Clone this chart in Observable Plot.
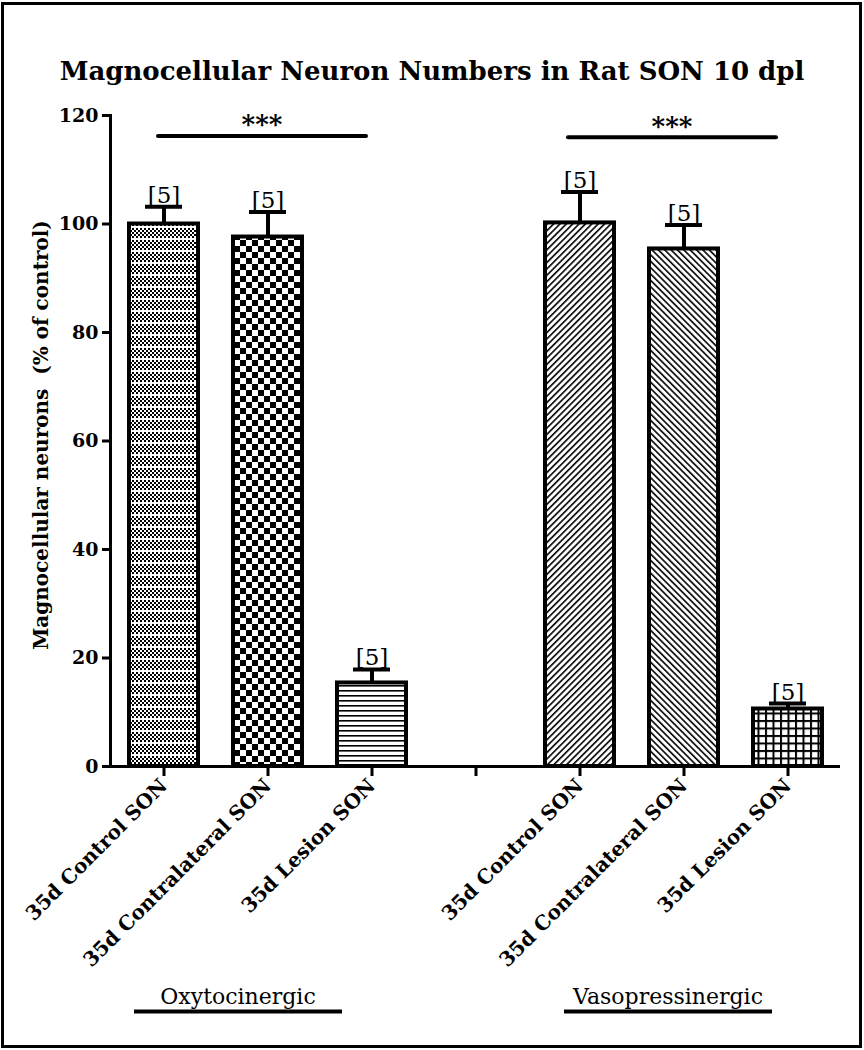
<!DOCTYPE html>
<html>
<head>
<meta charset="utf-8">
<script src="https://cdn.jsdelivr.net/npm/d3@7"></script>
<script src="https://cdn.jsdelivr.net/npm/@observablehq/plot@0.6"></script>
<style>
  html, body { margin: 0; padding: 0; background: #fff; }
  #wrap { position: relative; width: 864px; height: 1050px; overflow: hidden; }
  #border { position: absolute; left: 1px; top: 2px; width: 861px; height: 1046px; border: 3px solid #000; box-sizing: border-box; pointer-events: none; }
  #title { position: absolute; left: 0; width: 864px; top: 56px; text-align: center; font-family: "DejaVu Serif", serif; font-weight: bold; font-size: 26px; line-height: 30px; color: #000; }
  #chart { position: absolute; left: 0; top: 0; }
</style>
</head>
<body>
<div id="wrap">
  <div id="chart"></div>
  <div id="title">Magnocellular Neuron Numbers in Rat SON 10 dpl</div>
  <div id="border"></div>
</div>
<script>
// ---- data ----
const keys      = ["OT-control", "OT-contra", "OT-lesion", "gap", "VP-control", "VP-contra", "VP-lesion"];
const tickLabels = ["35d Control SON", "35d Contralateral SON", "35d Lesion SON", "", "35d Control SON", "35d Contralateral SON", "35d Lesion SON"];
const means     = [100, 97.6, 15.4, null, 100.2, 95.4, 10.6];
const sems      = [3.2, 4.6, 2.5, null, 5.7, 4.4, 1.0];
const ns        = [5, 5, 5, null, 5, 5, 5];
const patterns  = ["fineCheck", "coarseCheck", "hLines", null, "diagUp", "diagDown", "grid"];

const groupNames = ["Oxytocinergic", "Vasopressinergic"];
const groupFirst = ["OT-control", "VP-control"];
const groupMid   = ["OT-contra", "VP-contra"];
const groupLast  = ["OT-lesion", "VP-lesion"];
const sigLabels  = ["***", "***"];
const sigLevel   = [116.2, 116.0];

const yTicks = [0, 20, 40, 60, 80, 100, 120];
const yLabel = "Magnocellular neurons  (% of control)";

// ---- tables ----
const bars = keys.map((k, i) => ({key: k, mean: means[i], sem: sems[i], n: ns[i], pattern: patterns[i]}))
  .filter(d => d.mean != null);
const groups = groupNames.map((g, i) => ({name: g, first: groupFirst[i], mid: groupMid[i], last: groupLast[i], sig: sigLabels[i], level: sigLevel[i]}));
const labelOf = new Map(keys.map((k, i) => [k, tickLabels[i]]));

// layout offsets (pixels) per group annotation
const sigShift = [-6, -12];
const groupShift = [-30, -16];

const font = "DejaVu Serif";

const groupMarks = groups.flatMap((g, i) => [
  Plot.link([g], {x1: "first", x2: "last", y1: "level", y2: "level", dx: sigShift[i], stroke: "#000", strokeWidth: 4, strokeLinecap: "round"}),
  Plot.text([g], {x: "mid", y: "level", text: "sig", dx: sigShift[i], dy: -11, fontSize: 26, fontWeight: "bold", fill: "#000"}),
  Plot.text([g], {x: "mid", text: "name", frameAnchor: "bottom", dx: groupShift[i], dy: 237, fontSize: 22, fill: "#000"}),
  Plot.link([g], {x1: "first", x2: "last", y1: () => 0, y2: () => 0, dx: groupShift[i], dy: 245, stroke: "#000", strokeWidth: 4})
]);

const chart = Plot.plot({
  width: 864,
  height: 1050,
  marginLeft: 110,
  marginRight: 24,
  marginTop: 115,
  marginBottom: 284,
  style: {fontFamily: font, background: "transparent", color: "#000", overflow: "visible"},
  x: {domain: keys, paddingInner: 0.34, paddingOuter: 0.17, axis: null},
  y: {domain: [0, 120], axis: null},
  color: {type: "identity"},
  marks: [
    Plot.barY(bars, {x: "key", y: "mean", fill: d => `url(#${d.pattern})`, stroke: "#000", strokeWidth: 4}),
    Plot.ruleX(bars, {x: "key", y1: "mean", y2: d => d.mean + d.sem, stroke: "#000", strokeWidth: 4}),
    Plot.tickY(bars, {x: "key", y: d => d.mean + d.sem, stroke: "#000", strokeWidth: 4, insetLeft: 16, insetRight: 16}),
    Plot.text(bars, {x: "key", y: d => d.mean + d.sem, text: d => `[${d.n}]`, lineAnchor: "bottom", dy: -4, fontSize: 23, fill: "#000"}),
    // axes
    Plot.frame({anchor: "left", strokeWidth: 3}),
    Plot.ruleY([0], {strokeWidth: 3}),
    Plot.axisY({ticks: yTicks, tickSize: 8, tickPadding: 4, strokeWidth: 3, fontSize: 19, fontWeight: "bold", label: null}),
    Plot.axisX({ticks: keys, tickSize: 10, tickPadding: 6, strokeWidth: 3, tickRotate: -45, fontSize: 20, fontWeight: "bold", tickFormat: d => labelOf.get(d), label: null}),
    Plot.text([yLabel], {text: d => d, frameAnchor: "left", textAnchor: "middle", rotate: -90, dx: -69, dy: -6, fontSize: 20, fontWeight: "bold", fill: "#000"}),
    ...groupMarks
  ]
});

const defs = `
<defs>
  <pattern id="fineCheck" patternUnits="userSpaceOnUse" width="4" height="12">
    <rect width="4" height="12" fill="#fff"/>
    <rect x="0" y="0" width="2" height="2" fill="#000"/><rect x="2" y="2" width="2" height="2" fill="#000"/>
    <rect x="0" y="4" width="2" height="2" fill="#000"/><rect x="2" y="6" width="2" height="2" fill="#000"/>
    <rect x="0" y="8" width="2" height="2" fill="#000"/>
  </pattern>
  <pattern id="coarseCheck" patternUnits="userSpaceOnUse" width="12" height="12">
    <rect width="12" height="12" fill="#fff"/>
    <rect x="0" y="0" width="6" height="6" fill="#000"/><rect x="6" y="6" width="6" height="6" fill="#000"/>
  </pattern>
  <pattern id="hLines" patternUnits="userSpaceOnUse" width="8" height="5">
    <rect width="8" height="5" fill="#fff"/>
    <rect x="0" y="0" width="8" height="1.6" fill="#000"/>
  </pattern>
  <pattern id="diagUp" patternUnits="userSpaceOnUse" width="4.5" height="4.5" patternTransform="rotate(45)">
    <rect width="4.5" height="4.5" fill="#fff"/>
    <rect x="0" y="0" width="1.6" height="4.5" fill="#000"/>
  </pattern>
  <pattern id="diagDown" patternUnits="userSpaceOnUse" width="4.5" height="4.5" patternTransform="rotate(-45)">
    <rect width="4.5" height="4.5" fill="#fff"/>
    <rect x="0" y="0" width="1.6" height="4.5" fill="#000"/>
  </pattern>
  <pattern id="grid" patternUnits="userSpaceOnUse" width="7.5" height="7.5">
    <rect width="7.5" height="7.5" fill="#fff"/>
    <rect x="0" y="0" width="7.5" height="2" fill="#000"/>
    <rect x="0" y="0" width="2" height="7.5" fill="#000"/>
  </pattern>
</defs>`;
chart.insertAdjacentHTML("afterbegin", defs);
document.getElementById("chart").appendChild(chart);
</script>
</body>
</html>
